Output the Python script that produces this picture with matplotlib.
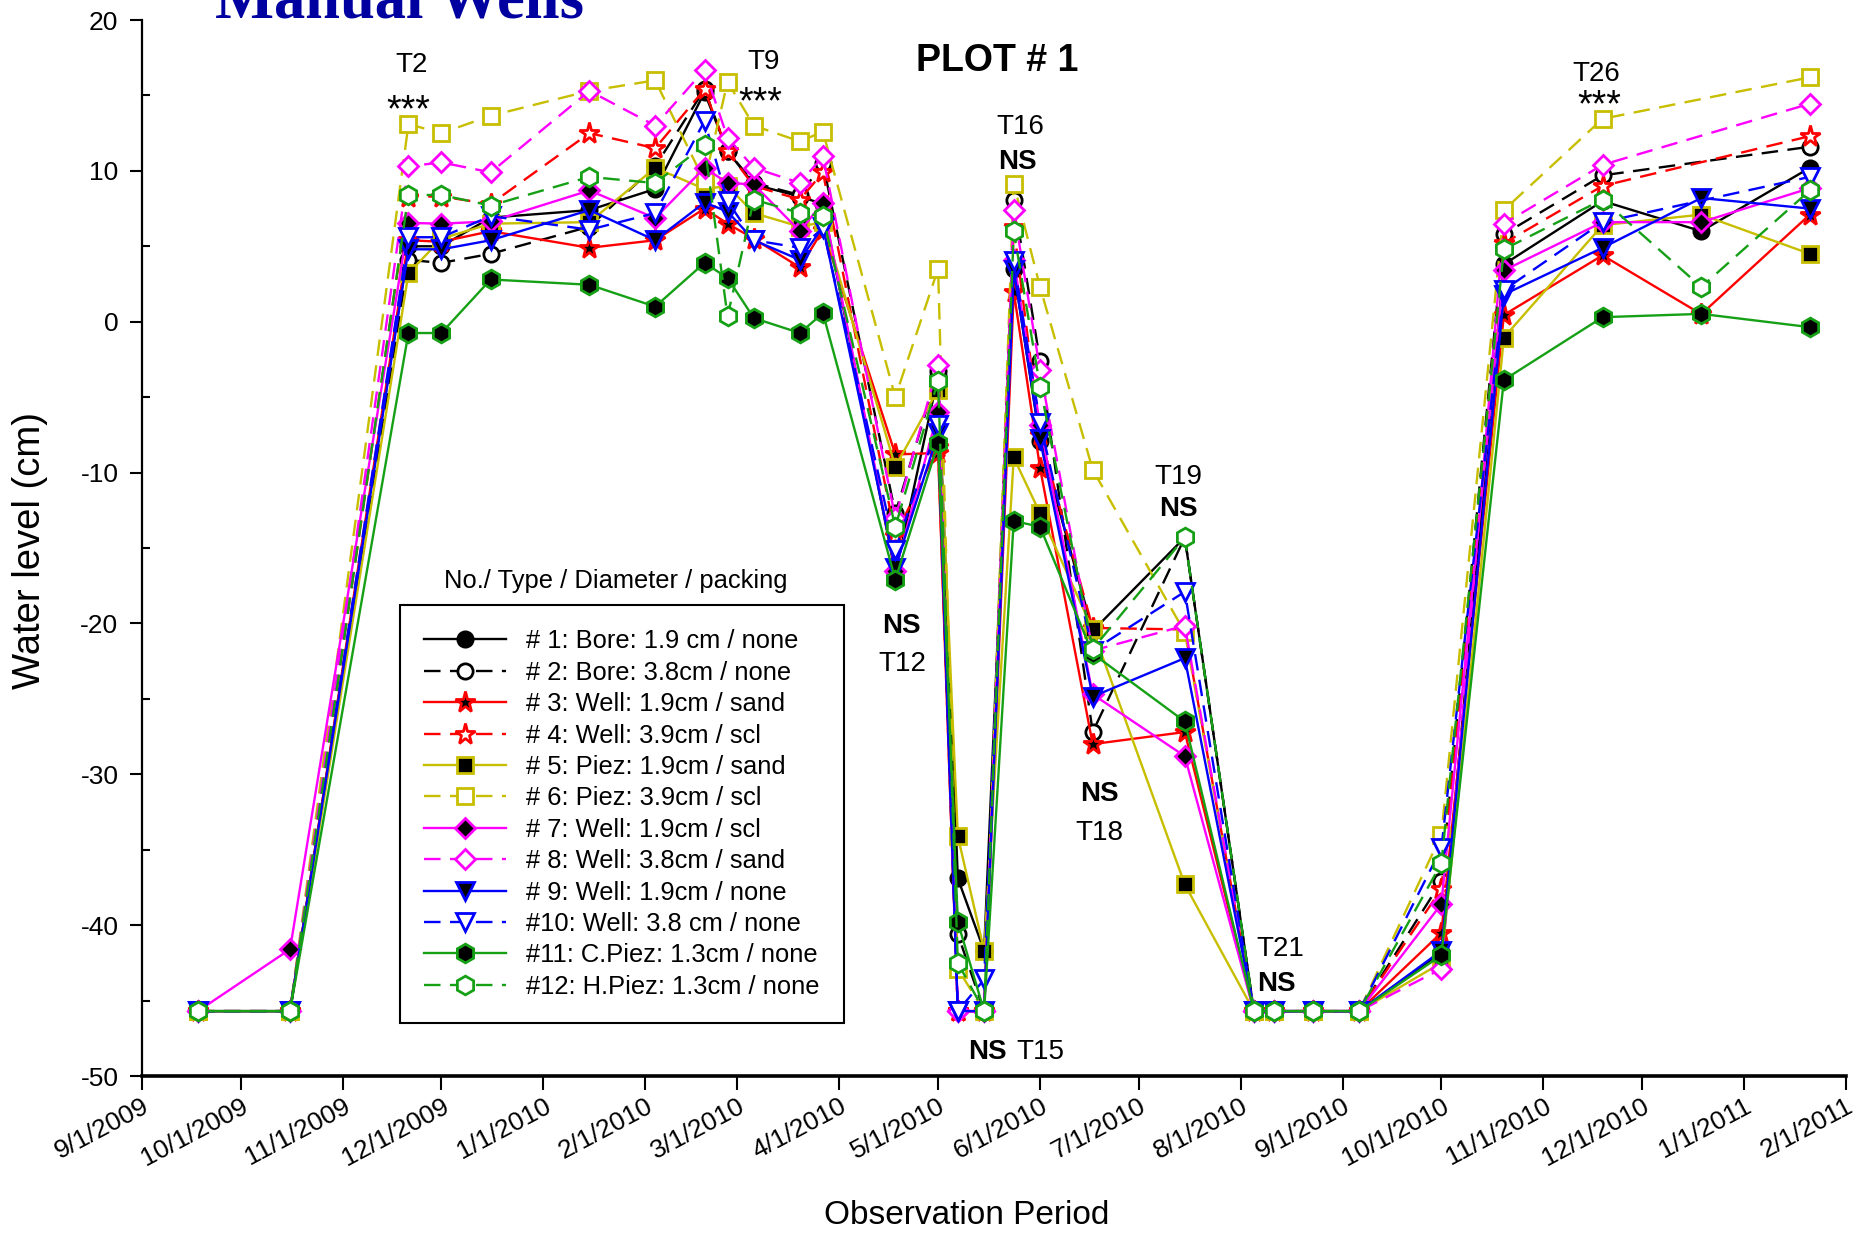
import numpy as np
import pandas as pd
import matplotlib
matplotlib.use("Agg")
import matplotlib.pyplot as plt
import matplotlib.dates as mdates
from matplotlib.ticker import FixedLocator, MultipleLocator, NullFormatter

plt.rcParams['font.family'] = ['Liberation Sans', 'DejaVu Sans']
plt.rcParams['axes.unicode_minus'] = False

NA = np.nan
DRY = -45.7  # reading recorded when a well is dry

obs_dates = ["2009-09-18", "2009-10-16", "2009-11-21", "2009-12-01", "2009-12-16",
             "2010-01-15", "2010-02-04", "2010-02-19", "2010-02-26", "2010-03-06",
             "2010-03-20", "2010-03-27", "2010-04-18", "2010-05-01", "2010-05-07",
             "2010-05-15", "2010-05-24", "2010-06-01", "2010-06-17", "2010-07-15",
             "2010-08-05", "2010-08-11", "2010-08-23", "2010-09-06", "2010-10-01",
             "2010-10-20", "2010-11-19", "2010-12-19", "2011-01-21"]

well_labels = ["# 1: Bore: 1.9 cm / none", "# 2: Bore: 3.8cm / none",
               "# 3: Well: 1.9cm / sand", "# 4: Well: 3.9cm / scl",
               "# 5: Piez: 1.9cm / sand", "# 6: Piez: 3.9cm / scl",
               "# 7: Well: 1.9cm / scl", "# 8: Well: 3.8cm / sand",
               "# 9: Well: 1.9cm / none", "#10: Well: 3.8 cm / none",
               "#11: C.Piez: 1.3cm / none", "#12: H.Piez: 1.3cm / none"]

level_01 = [DRY, DRY, 5.0, 5.0, 6.9, 7.4, 8.8, 15.2, 11.3, 9.1, 8.3, 7.8, -16.7, -3.6, -36.9,
            -41.7, 3.5, -7.9, -20.5, -14.3, DRY, DRY, DRY, DRY, -41.8, 3.8, 8.0, 6.0, 10.2]
level_02 = [DRY, DRY, 4.1, 3.9, 4.5, 6.3, 10.3, 15.4, 11.3, 9.2, 8.4, 10.5, -12.7, -3.3, -40.6,
            DRY, 8.1, -2.6, -27.2, -14.3, DRY, DRY, DRY, DRY, -37.1, 5.8, 9.7, NA, 11.6]
level_03 = [DRY, DRY, 5.4, 5.3, 6.0, 4.9, 5.4, 7.5, 6.5, 5.5, 3.6, 6.1, -8.8, -8.7, DRY,
            DRY, 2.0, -9.7, -28.0, -27.2, DRY, DRY, DRY, DRY, -40.5, 0.45, 4.4, 0.5, 7.1]
level_04 = [DRY, DRY, 8.3, 8.3, 7.8, 12.5, 11.5, 15.4, 11.3, 9.0, 8.1, 9.9, -14.2, -8.3, DRY,
            DRY, 6.3, -7.5, -20.3, -20.4, DRY, DRY, DRY, DRY, -37.6, 5.2, 9.0, NA, 12.3]
level_05 = [DRY, DRY, 3.2, 5.5, 6.5, 6.6, 10.2, 8.8, 9.0, 7.2, 6.3, 6.6, -9.6, -4.5, -34.1,
            -41.7, -9.0, -12.7, -20.4, -37.3, DRY, DRY, DRY, DRY, -42.5, -1.05, 6.4, 7.1, 4.5]
level_06 = [DRY, DRY, 13.1, 12.5, 13.65, 15.3, 16.0, 9.3, 15.9, 13.0, 11.95, 12.6, -5.0, 3.5, -42.9,
            DRY, 9.15, 2.3, -9.8, -20.6, DRY, DRY, DRY, DRY, -34.0, 7.4, 13.45, NA, 16.2]
level_07 = [DRY, -41.6, 6.55, 6.5, 6.65, 8.7, 6.87, 10.2, 9.2, 9.1, 6.0, 7.9, -16.5, -6.0, DRY,
            DRY, 4.1, -6.85, -24.7, -28.8, DRY, DRY, DRY, DRY, -38.6, 3.4, 6.6, 6.6, 8.85]
level_08 = [DRY, DRY, 10.3, 10.56, 9.9, 15.3, 13.0, 16.7, 12.2, 10.2, 9.2, 10.96, -13.0, -2.9, DRY,
            DRY, 7.4, -3.2, -21.8, -20.15, DRY, DRY, DRY, DRY, -42.9, 6.5, 10.4, NA, 14.45]
level_09 = [DRY, DRY, 4.8, 4.8, 5.4, 7.4, 5.4, 7.9, 7.3, 5.4, 4.1, 6.3, -16.3, -7.4, DRY,
            DRY, 3.45, -7.8, -24.85, -22.3, DRY, DRY, DRY, DRY, -41.7, 1.8, 4.9, 8.2, 7.5]
level_10 = [DRY, DRY, 5.6, 5.6, 7.0, 6.1, 7.2, 13.3, 8.0, 5.4, 4.9, 6.2, -15.1, -6.85, DRY,
            -43.6, 4.0, -6.7, -21.8, -17.9, DRY, DRY, DRY, DRY, -34.9, 2.1, 6.6, NA, 9.6]
level_11 = [DRY, DRY, -0.75, -0.75, 2.8, 2.45, 1.0, 3.9, 2.9, 0.24, -0.75, 0.57, -17.1, -8.05, -39.8,
            DRY, -13.2, -13.6, -22.0, -26.5, DRY, DRY, DRY, DRY, -42.0, -3.86, 0.3, 0.52, -0.36]
level_12 = [DRY, DRY, 8.4, 8.4, 7.7, 9.6, 9.19, 11.7, 0.35, 8.1, 7.2, 7.0, -13.6, -3.9, -42.5,
            DRY, 6.0, -4.3, -21.7, -14.3, DRY, DRY, DRY, DRY, -35.9, 4.8, 8.1, 2.3, 8.7]

tick_dates = ["2009-09-01", "2009-10-01", "2009-11-01", "2009-12-01", "2010-01-01",
              "2010-02-01", "2010-03-01", "2010-04-01", "2010-05-01", "2010-06-01",
              "2010-07-01", "2010-08-01", "2010-09-01", "2010-10-01", "2010-11-01",
              "2010-12-01", "2011-01-01", "2011-02-01"]
tick_labels = ["9/1/2009", "10/1/2009", "11/1/2009", "12/1/2009", "1/1/2010",
               "2/1/2010", "3/1/2010", "4/1/2010", "5/1/2010", "6/1/2010",
               "7/1/2010", "8/1/2010", "9/1/2010", "10/1/2010", "11/1/2010",
               "12/1/2010", "1/1/2011", "2/1/2011"]
y_ticks = [-50, -40, -30, -20, -10, 0, 10, 20]

# event notes: (text, date, level, bold)
notes = [("T2", "2009-11-22", 17.0, False), ("***", "2009-11-21", 13.95, False),
         ("T9", "2010-03-09", 17.2, False), ("***", "2010-03-08", 14.45, False),
         ("T16", "2010-05-26", 12.9, False), ("NS", "2010-05-25", 10.6, True),
         ("NS", "2010-04-20", -20.2, True), ("T12", "2010-04-20", -22.7, False),
         ("T19", "2010-07-13", -10.3, False), ("NS", "2010-07-13", -12.4, True),
         ("NS", "2010-06-19", -31.3, True), ("T18", "2010-06-19", -33.9, False),
         ("NS", "2010-05-16", -48.4, True), ("T15", "2010-06-01", -48.4, False),
         ("T21", "2010-08-13", -41.6, False), ("NS", "2010-08-12", -43.9, True),
         ("T26", "2010-11-17", 16.4, False), ("***", "2010-11-18", 14.25, False)]

levels = [level_01, level_02, level_03, level_04, level_05, level_06,
          level_07, level_08, level_09, level_10, level_11, level_12]

BLACK, RED, OLIVE, MAGENTA, BLUE, GREEN = "#000000", "#FF0000", "#C8BE00", "#FF00FF", "#0000FF", "#16A016"
DASH = (0, (7, 4))
# colour, line style, marker, marker size, face colour
styles = [(BLACK, "-", "o", 11, "black"), (BLACK, DASH, "o", 11, "white"),
          (RED, "-", "*", 15.5, "black"), (RED, DASH, "*", 15.5, "white"),
          (OLIVE, "-", "s", 11.5, "black"), (OLIVE, DASH, "s", 11.5, "white"),
          (MAGENTA, "-", "D", 10.5, "black"), (MAGENTA, DASH, "D", 10.5, "white"),
          (BLUE, "-", "v", 12.5, "black"), (BLUE, DASH, "v", 12.5, "white"),
          (GREEN, "-", "h", 13.5, "black"), (GREEN, DASH, "h", 13.5, "white")]

W, H = 1872, 1233
fig = plt.figure(figsize=(W / 100, H / 100), dpi=100)
ax = fig.add_axes([142 / W, 1 - 1076 / H, 1704 / W, 1056 / H])

x_all = mdates.date2num(pd.to_datetime(obs_dates).to_pydatetime())
handles = []
for i, (vals, (col, ls, mk, ms, fc)) in enumerate(zip(levels, styles)):
    v = np.asarray(vals, dtype=float)
    ok = ~np.isnan(v)
    ln, = ax.plot(x_all[ok], v[ok], color=col, linestyle=ls, linewidth=1.7,
                  marker=mk, markersize=ms, markerfacecolor=fc,
                  markeredgecolor=col, markeredgewidth=2.0,
                  zorder=3 + i * 0.01, label=well_labels[i], clip_on=False)
    handles.append(ln)

x_ticks = mdates.date2num(pd.to_datetime(tick_dates).to_pydatetime())
ax.set_xlim(x_ticks[0], x_ticks[-1])
ax.set_ylim(-50, 20)
ax.xaxis.set_major_locator(FixedLocator(x_ticks))
ax.set_xticklabels(tick_labels, rotation=28, ha="right", va="top",
                   rotation_mode="anchor", fontsize=19)
ax.yaxis.set_major_locator(FixedLocator(y_ticks))
ax.yaxis.set_minor_locator(MultipleLocator(5))
ax.yaxis.set_minor_formatter(NullFormatter())
ax.tick_params(axis="y", which="major", direction="out", length=9, width=1.5,
               labelsize=19, pad=8)
ax.tick_params(axis="y", which="minor", direction="in", length=6, width=1.5)
ax.tick_params(axis="x", which="major", direction="out", length=10, width=1.5, pad=3)
for side in ("top", "right"):
    ax.spines[side].set_visible(False)
ax.spines["left"].set_linewidth(1.6)
ax.spines["bottom"].set_linewidth(2.6)

for text, d, val, bold in notes:
    is_star = text == "***"
    ax.text(mdates.date2num(pd.Timestamp(d).to_pydatetime()), val,
            text, ha="center", va="center", fontsize=27 if is_star else 20,
            fontweight="bold" if bold else "normal", zorder=10)

fig.text(835 * 1.194 / W, 1 - 51 * 1.194 / H, "PLOT # 1", ha="center", va="center",
         fontsize=27, fontweight="bold")
fig.text(215 / W, 1 - 18 / H, "Manual Wells", ha="left", va="baseline",
         fontsize=45, fontweight="bold", color="#0000A0",
         family=["Liberation Serif", "DejaVu Serif"])

fig.text(30 / W, 1 - 550 / H, "Water level (cm)", rotation=90, ha="center",
         va="center", fontsize=27.5)
fig.text(967 / W, 1 - 1215 / H, "Observation Period", ha="center", va="center",
         fontsize=24)

leg = ax.legend(handles=handles, loc="upper left",
                bbox_to_anchor=((400 - 142) / 1704, 1 - (605 - 20) / 1056),
                borderaxespad=0, fontsize=18.4, frameon=True, fancybox=False,
                edgecolor="black", framealpha=1, handlelength=3.2,
                handletextpad=0.8, labelspacing=0.29, borderpad=0.95, numpoints=1)
leg.get_frame().set_linewidth(1.5)
leg.set_zorder(20)
fig.text(616 / W, 1 - 581 / H, "No./ Type / Diameter / packing", ha="center",
         va="center", fontsize=18.4)

fig.savefig("out.png", dpi=100)
